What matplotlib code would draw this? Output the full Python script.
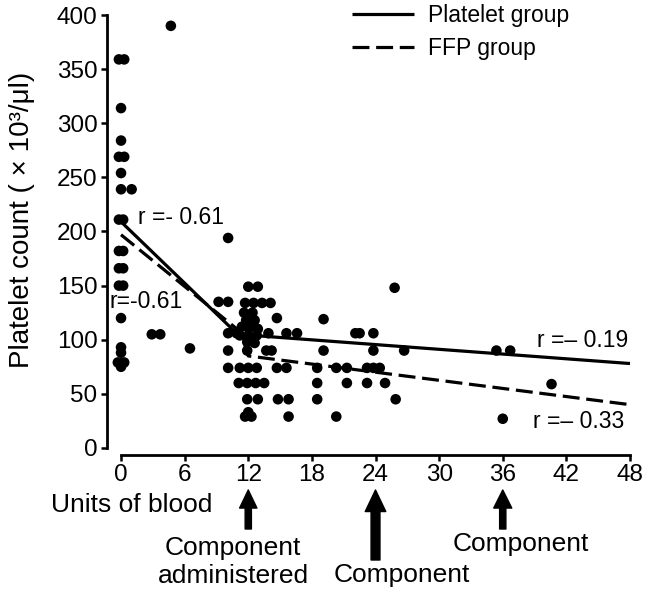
import matplotlib
matplotlib.use("Agg")
import matplotlib.pyplot as plt
import numpy as np

plt.rcParams['font.family'] = ['Liberation Sans', 'DejaVu Sans']

# ---------------- data ----------------
units_x = [-0.2, 0.3, 0.0, 0.0, -0.2, 0.3, 0.0, 0.0, 1.0, -0.2, 0.2, -0.2, 0.2,
           -0.2, 0.2, -0.2, 0.2, 0.0, 0.0, 0.0, -0.3, 0.3, 0.0,
           4.7, 2.9, 3.7, 6.5, 10.1, 9.2, 10.1,
           12.0, 12.9,
           11.7, 12.5, 13.3, 14.1,
           11.6, 12.4, 11.8, 12.6, 12.1, 11.4, 12.9,
           14.7, 19.1,
           10.1, 10.9, 13.9, 15.6, 16.6, 22.1, 22.5, 23.8, 11.2, 12.0, 12.8,
           11.9, 12.6,
           10.1, 11.9, 13.7, 14.2, 19.1, 23.8, 26.7,
           10.1, 11.2, 12.0, 12.8, 14.7, 15.6, 18.5, 20.3, 21.3, 23.2, 23.8, 24.4,
           11.1, 11.9, 12.7, 13.5, 18.5, 21.3, 23.2, 24.9,
           11.9, 12.9, 14.8, 15.8, 18.5, 25.9,
           11.7, 12.3, 12.0, 15.8, 20.3,
           25.8, 35.4, 36.7, 40.6, 36.0]
platelets_y = [359, 359, 314, 284, 269, 269, 254, 239, 239, 211, 211, 182, 182,
               166, 166, 150, 150, 120, 93, 88, 79, 79, 75,
               390, 105, 105, 92, 194, 135, 135,
               149, 149,
               134, 134, 134, 134,
               125, 125, 118, 118, 111, 112, 110,
               120, 119,
               106, 106, 106, 106, 106, 106, 106, 106, 104, 104, 104,
               98, 97,
               90, 90, 90, 90, 90, 90, 90,
               74, 74, 74, 74, 74, 74, 74, 74, 74, 74, 74, 74,
               60, 60, 60, 60, 60, 60, 60, 60,
               45, 45, 45, 45, 45, 45,
               29, 29, 33, 29, 29,
               148, 90, 90, 59, 27]

platelet_fit_x = [0, 11, 48]
platelet_fit_y = [209, 105, 78]
ffp_fit_x = [0, 11.3, 12, 48]
ffp_fit_y = [197, 107, 85, 40]

x_ticks = [0, 6, 12, 18, 24, 30, 36, 42, 48]
y_ticks = [0, 50, 100, 150, 200, 250, 300, 350, 400]
arrow_units = [12, 24, 36]

# ---------------- figure ----------------
W, H = 662, 589
fig = plt.figure(figsize=(W / 100, H / 100), dpi=100)
ax = fig.add_axes([106.5 / W, (H - 455) / H, (635.3 - 106.5) / W, (455 - 9.6) / H])
ax.set_xlim(-1.37, 48.5)
ax.set_ylim(-6.5, 405)

ax.scatter(units_x, platelets_y, s=58, color='black', edgecolors='none', zorder=3)
l1, = ax.plot(platelet_fit_x, platelet_fit_y, color='black', lw=2.3,
              solid_capstyle='butt', zorder=2, label='Platelet group')
l2, = ax.plot(ffp_fit_x, ffp_fit_y, color='black', lw=2.3,
              linestyle=(0, (5.3, 2.1)), zorder=2, label='FFP group')

for s in ['top', 'right']:
    ax.spines[s].set_visible(False)
ax.spines['left'].set_bounds(0, 400)
ax.spines['bottom'].set_bounds(0, 48)
for s in ['left', 'bottom']:
    ax.spines[s].set_linewidth(2.0)

ax.set_xticks(x_ticks)
ax.set_yticks(y_ticks)
ax.tick_params(axis='both', direction='out', width=1.8, labelsize=17.5, color='black')
ax.tick_params(axis='y', length=4.5, pad=2)
ax.tick_params(axis='x', length=4, pad=2.5)

fig.text(22 / W, 1 - 220 / H, 'Platelet count ( × 10³/μl)', rotation=90,
         ha='center', va='center', fontsize=20)

# correlation labels
ax.text(1.6, 213, 'r =- 0.61', fontsize=16.5, ha='left', va='center')
ax.text(-1.1, 135, 'r=-0.61', fontsize=16.5, ha='left', va='center')
ax.text(47.8, 99, 'r =– 0.19', fontsize=16.5, ha='right', va='center')
ax.text(47.5, 24, 'r =– 0.33', fontsize=16.5, ha='right', va='center')

# legend
ax.legend(handles=[l1, l2], loc='upper left', bbox_to_anchor=(352 / W, 1 - 4 / H),
          bbox_transform=fig.transFigure, frameon=False, fontsize=16.5,
          handlelength=2.7, handletextpad=0.62, labelspacing=0.42,
          borderpad=0, borderaxespad=0)

# bottom annotations
fig.text(132 / W, 1 - 505 / H, 'Units of blood', fontsize=19, ha='center', va='center')
arrow_specs = [(490, 529, 4.5, 12.5, 13), (490, 560, 6.4, 14.8, 15.5), (490, 529, 4.5, 13, 13)]
for u, (tip, tail, w, hw, hl) in zip(arrow_units, arrow_specs):
    ax.annotate('', xy=(u, H - tip), xytext=(u, H - tail),
                xycoords=('data', 'figure pixels'), textcoords=('data', 'figure pixels'),
                arrowprops=dict(width=w, headwidth=hw, headlength=hl, color='black', shrink=0),
                annotation_clip=False)
fig.text(233 / W, 1 - 548 / H, 'Component', fontsize=19, ha='center', va='center')
fig.text(233 / W, 1 - 576 / H, 'administered', fontsize=19, ha='center', va='center')
fig.text(402 / W, 1 - 575 / H, 'Component', fontsize=19, ha='center', va='center')
fig.text(521 / W, 1 - 544 / H, 'Component', fontsize=19, ha='center', va='center')

fig.savefig('out.png', dpi=100)
